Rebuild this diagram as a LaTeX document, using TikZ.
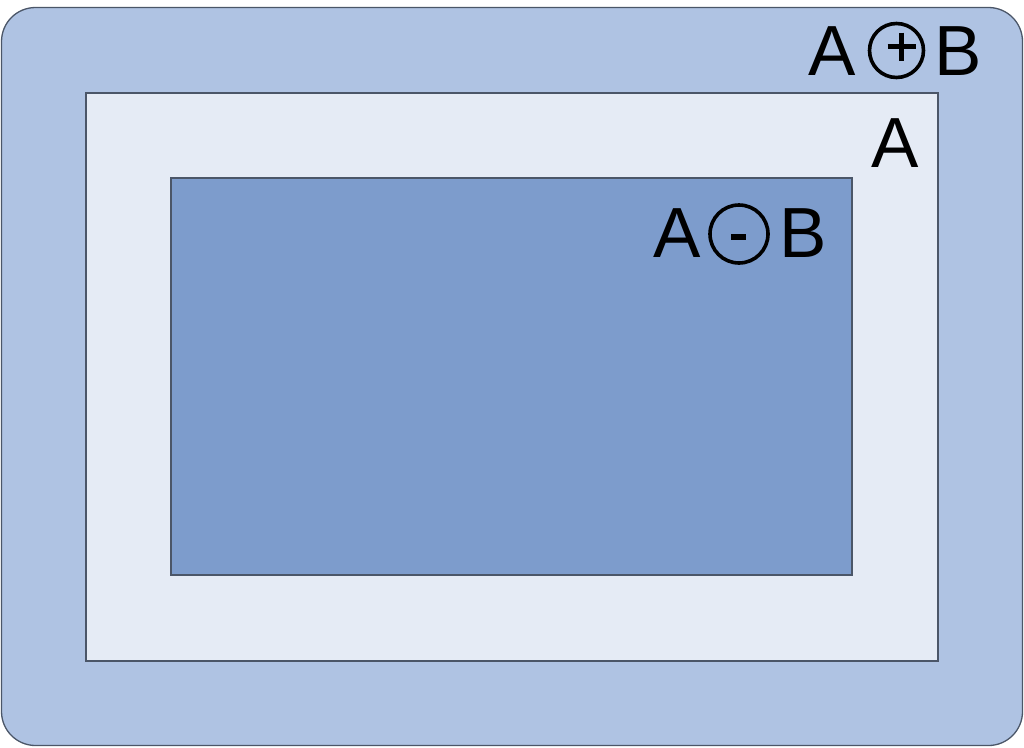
\documentclass[tikz,border=0pt]{standalone}
\usepackage{fontspec}
\setmainfont{Liberation Sans}
\definecolor{outerfill}{HTML}{AFC3E3}
\definecolor{afill}{HTML}{E5EBF5}
\definecolor{abfill}{HTML}{7D9CCC}
\definecolor{edge}{HTML}{4B5668}
\begin{document}
\begin{tikzpicture}[x=1pt,y=-1pt,
  region/.style={draw=edge,line width=1.3pt},
  letter/.style={inner sep=0pt,anchor=base,font=\fontsize{71}{71}\selectfont},
  opcircle/.style={circle,draw=black,line width=3.6pt,inner sep=0pt},
  opmark/.style={line width=4.3pt,black}]
\useasboundingbox (0,0) rectangle (1024,747);
\node[region,fill=outerfill,rounded corners=34pt,minimum width=1021pt,minimum height=738pt,inner sep=0pt] (outer) at (512,376.5) {};
\node[region,fill=afill,minimum width=852pt,minimum height=568pt,inner sep=0pt] (setA) at (512,377) {};
\node[region,fill=abfill,minimum width=681pt,minimum height=397pt,inner sep=0pt] (setAB) at (511.5,376.5) {};
% A (+) B
\node[letter] (pA) at (832.5,75) {A};
\node[opcircle,minimum size=54pt] (pC) at (896.5,50.5) {};
\coordinate (pM) at (901.5,46.5);
\draw[opmark] ([xshift=-14pt]pM) coordinate (ph1) -- ([xshift=14pt]pM) coordinate (ph2);
\draw[opmark] ([yshift=14pt]pM) coordinate (pv1) -- ([yshift=-14pt]pM) coordinate (pv2);
\node[letter] (pB) at (958.5,75) {B};
% A
\node[letter] (lA) at (895.5,167.5) {A};
% A (-) B
\node[letter] (mA) at (677.5,257) {A};
\node[opcircle,minimum size=58pt] (mC) at (739,234) {};
\coordinate (mM) at (738.5,236.7);
\fill[black] ([xshift=-7.5pt,yshift=-2.8pt]mM) rectangle ([xshift=7.5pt,yshift=2.8pt]mM);
\node[letter] (mB) at (803,257) {B};
\end{tikzpicture}
\end{document}
